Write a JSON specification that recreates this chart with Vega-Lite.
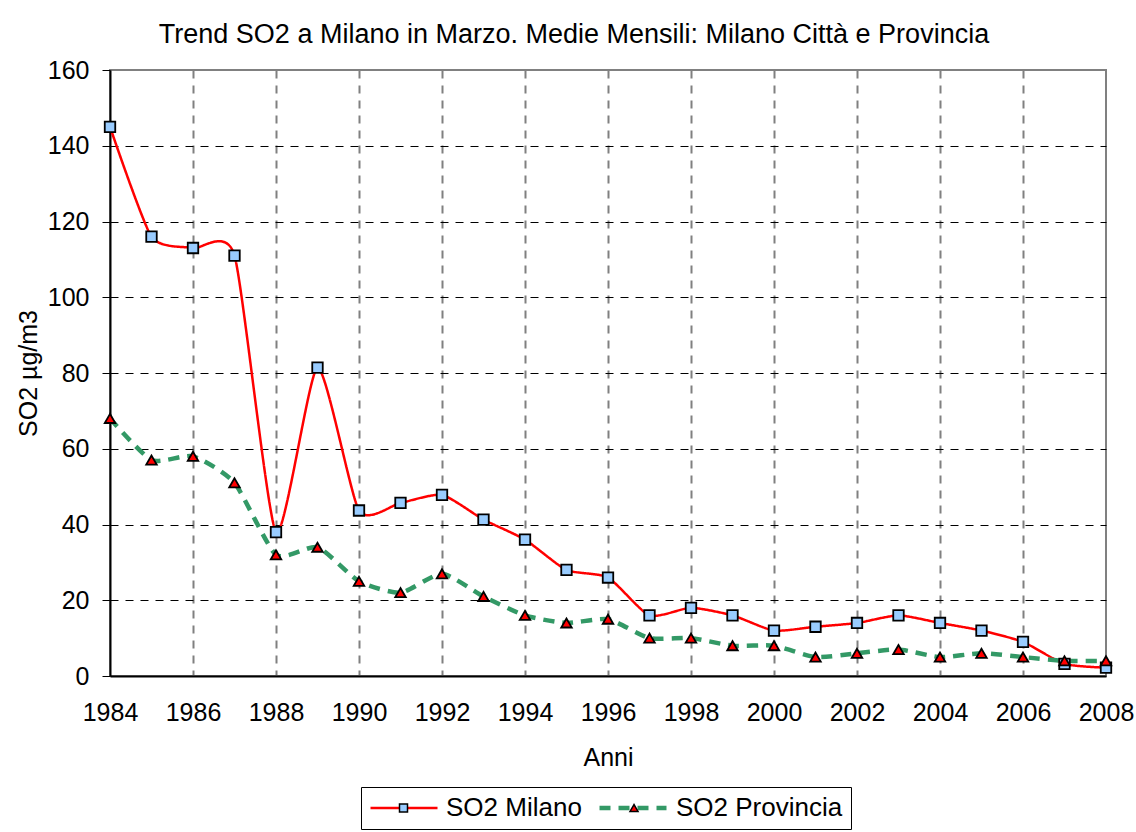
{
  "$schema": "https://vega.github.io/schema/vega-lite/v6.json",
  "width": 996,
  "height": 606,
  "autosize": {"type": "none"},
  "padding": {"left": 110, "top": 70, "right": 30, "bottom": 156},
  "background": "white",
  "config": {
    "font": "Liberation Sans",
    "view": {"stroke": "#808080", "strokeWidth": 2}
  },
  "title": {
    "text": "Trend SO2 a Milano in Marzo. Medie Mensili: Milano Città e Provincia",
    "fontSize": 27,
    "fontWeight": "normal",
    "color": "black",
    "frame": "group",
    "anchor": "middle",
    "dx": -34,
    "baseline": "alphabetic",
    "offset": -12
  },
  "data": {
    "values": [
      {"year": 1984, "series": "SO2 Milano", "value": 145},
      {"year": 1985, "series": "SO2 Milano", "value": 116},
      {"year": 1986, "series": "SO2 Milano", "value": 113},
      {"year": 1987, "series": "SO2 Milano", "value": 111},
      {"year": 1988, "series": "SO2 Milano", "value": 38},
      {"year": 1989, "series": "SO2 Milano", "value": 81.4},
      {"year": 1990, "series": "SO2 Milano", "value": 43.7},
      {"year": 1991, "series": "SO2 Milano", "value": 45.7},
      {"year": 1992, "series": "SO2 Milano", "value": 47.8},
      {"year": 1993, "series": "SO2 Milano", "value": 41.3},
      {"year": 1994, "series": "SO2 Milano", "value": 36},
      {"year": 1995, "series": "SO2 Milano", "value": 28},
      {"year": 1996, "series": "SO2 Milano", "value": 26},
      {"year": 1997, "series": "SO2 Milano", "value": 16},
      {"year": 1998, "series": "SO2 Milano", "value": 18},
      {"year": 1999, "series": "SO2 Milano", "value": 16},
      {"year": 2000, "series": "SO2 Milano", "value": 12},
      {"year": 2001, "series": "SO2 Milano", "value": 13},
      {"year": 2002, "series": "SO2 Milano", "value": 14},
      {"year": 2003, "series": "SO2 Milano", "value": 16},
      {"year": 2004, "series": "SO2 Milano", "value": 14},
      {"year": 2005, "series": "SO2 Milano", "value": 12},
      {"year": 2006, "series": "SO2 Milano", "value": 9},
      {"year": 2007, "series": "SO2 Milano", "value": 3.2},
      {"year": 2008, "series": "SO2 Milano", "value": 2.2},
      {"year": 1984, "series": "SO2 Provincia", "value": 68},
      {"year": 1985, "series": "SO2 Provincia", "value": 57},
      {"year": 1986, "series": "SO2 Provincia", "value": 58},
      {"year": 1987, "series": "SO2 Provincia", "value": 51},
      {"year": 1988, "series": "SO2 Provincia", "value": 32},
      {"year": 1989, "series": "SO2 Provincia", "value": 34},
      {"year": 1990, "series": "SO2 Provincia", "value": 25},
      {"year": 1991, "series": "SO2 Provincia", "value": 22},
      {"year": 1992, "series": "SO2 Provincia", "value": 27},
      {"year": 1993, "series": "SO2 Provincia", "value": 21},
      {"year": 1994, "series": "SO2 Provincia", "value": 16},
      {"year": 1995, "series": "SO2 Provincia", "value": 14},
      {"year": 1996, "series": "SO2 Provincia", "value": 15},
      {"year": 1997, "series": "SO2 Provincia", "value": 10},
      {"year": 1998, "series": "SO2 Provincia", "value": 10},
      {"year": 1999, "series": "SO2 Provincia", "value": 8},
      {"year": 2000, "series": "SO2 Provincia", "value": 8},
      {"year": 2001, "series": "SO2 Provincia", "value": 5},
      {"year": 2002, "series": "SO2 Provincia", "value": 6},
      {"year": 2003, "series": "SO2 Provincia", "value": 7},
      {"year": 2004, "series": "SO2 Provincia", "value": 5},
      {"year": 2005, "series": "SO2 Provincia", "value": 6},
      {"year": 2006, "series": "SO2 Provincia", "value": 5},
      {"year": 2007, "series": "SO2 Provincia", "value": 4},
      {"year": 2008, "series": "SO2 Provincia", "value": 4}
    ]
  },
  "encoding": {
    "x": {
      "field": "year",
      "type": "quantitative",
      "scale": {"domain": [1984, 2008], "nice": false, "zero": false},
      "axis": {
        "values": [1984, 1986, 1988, 1990, 1992, 1994, 1996, 1998, 2000, 2002, 2004, 2006, 2008],
        "format": "d",
        "title": "Anni",
        "titleFontSize": 25,
        "titleFontWeight": "normal",
        "titleColor": "black",
        "titlePadding": 20,
        "labelFontSize": 25,
        "labelColor": "black",
        "labelPadding": 24,
        "labelFlush": false,
        "labelOverlap": false,
        "labelBound": false,
        "ticks": false,
        "domainColor": "black",
        "domainWidth": 2,
        "grid": true,
        "gridColor": "#808080",
        "gridWidth": 2,
        "gridDash": [8, 7],
        "gridOpacity": {"condition": {"test": "datum.value === 1984 || datum.value === 2008", "value": 0}, "value": 1}
      }
    },
    "y": {
      "field": "value",
      "type": "quantitative",
      "scale": {"domain": [0, 160], "nice": false},
      "axis": {
        "values": [0, 20, 40, 60, 80, 100, 120, 140, 160],
        "title": "SO2 µg/m3",
        "titleFontSize": 25,
        "titleFontWeight": "normal",
        "titleColor": "black",
        "titlePadding": 6,
        "labelFontSize": 25,
        "labelColor": "black",
        "labelPadding": 13,
        "tickSize": 8,
        "tickColor": "black",
        "tickWidth": 1,
        "domainColor": "black",
        "domainWidth": 2,
        "grid": true,
        "gridColor": "black",
        "gridWidth": 1,
        "gridDash": [8, 7],
        "gridOpacity": {"condition": {"test": "datum.value === 0 || datum.value === 160", "value": 0}, "value": 1}
      }
    }
  },
  "layer": [
    {
      "mark": {"type": "line", "interpolate": "cardinal", "tension": 0.4},
      "encoding": {
        "color": {
          "field": "series",
          "type": "nominal",
          "scale": {"range": ["#FF0000", "#339966"]},
          "legend": {
            "orient": "none",
            "legendX": 251,
            "legendY": 717,
            "direction": "horizontal",
            "title": null,
            "symbolType": "stroke",
            "symbolSize": 4489,
            "clipHeight": 26,
            "labelFontSize": 26,
            "labelColor": "black",
            "labelLimit": 400,
            "labelOffset": 7,
            "columnPadding": 15,
            "padding": 8,
            "strokeColor": "black",
            "fillColor": "white"
          }
        },
        "strokeDash": {
          "field": "series",
          "type": "nominal",
          "scale": {"range": [[1, 0], [11, 8]]}
        },
        "strokeWidth": {
          "field": "series",
          "type": "nominal",
          "scale": {"range": [2.5, 4.5]}
        }
      }
    },
    {
      "mark": {"type": "point", "filled": true, "stroke": "black", "strokeWidth": 1.8, "opacity": 1, "size": 110},
      "encoding": {
        "shape": {
          "field": "series",
          "type": "nominal",
          "scale": {"domain": ["SO2 Milano", "SO2 Provincia"], "range": ["square", "triangle-up"]},
          "legend": {
            "orient": "none",
            "legendX": 288.5,
            "legendY": 733,
            "values": ["SO2 Milano"],
            "title": null,
            "symbolSize": 64,
            "symbolFillColor": "#99CCFF",
            "symbolStrokeColor": "black",
            "symbolStrokeWidth": 1.5,
            "labelExpr": "''",
            "labelFontSize": 10,
            "labelOffset": 0,
            "padding": 0,
            "encode": {"symbols": {"enter": {"fill": {"value": "#99CCFF"}}, "update": {"fill": {"value": "#99CCFF"}, "stroke": {"value": "black"}, "strokeWidth": {"value": 1.5}, "opacity": {"value": 1}}}}
          }
        },
        "fill": {
          "field": "series",
          "type": "nominal",
          "scale": {"domain": ["SO2 Provincia", "SO2 Milano"], "range": ["#FF0000", "#99CCFF"]},
          "legend": {
            "orient": "none",
            "legendX": 519,
            "legendY": 733,
            "values": ["SO2 Provincia"],
            "title": null,
            "symbolType": "triangle-up",
            "symbolSize": 64,
            "labelExpr": "''",
            "labelFontSize": 10,
            "labelOffset": 0,
            "padding": 0,
            "encode": {"symbols": {"update": {"fill": {"value": "#FF0000"}, "stroke": {"value": "black"}, "strokeWidth": {"value": 1.5}, "opacity": {"value": 1}}}}
          }
        }
      }
    }
  ]
}
